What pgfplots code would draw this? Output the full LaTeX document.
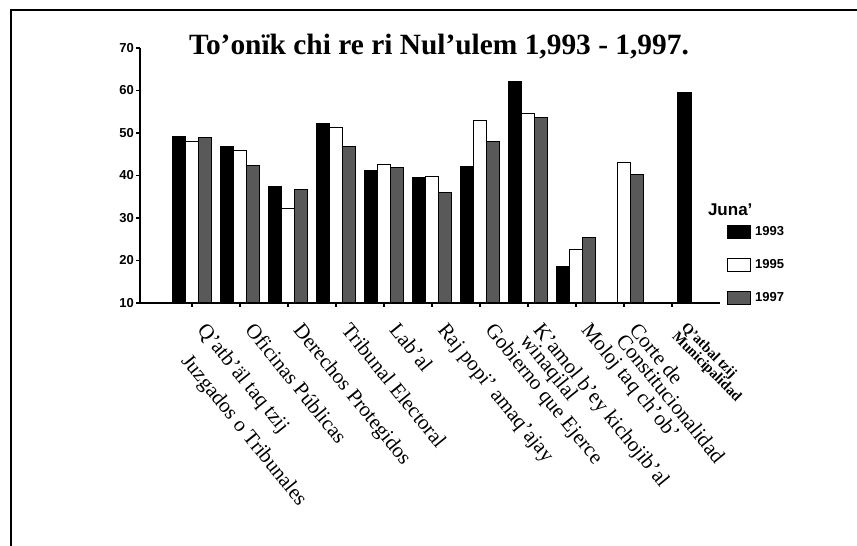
\documentclass[border=0pt]{standalone}
\usepackage{fontspec}
\setmainfont{Liberation Serif}
\setsansfont{Liberation Sans}
\usepackage{pgfplots}
\pgfplotsset{compat=1.18}
\pgfplotstableread{
x y93 y95 y97
0 49.1 47.9 48.9
1 46.9 45.9 42.3
2 37.3 32.3 36.8
3 52.3 51.3 46.8
4 41.2 42.5 42.0
5 39.5 39.8 36.0
6 42.2 52.9 48.0
7 62.2 54.6 53.6
8 18.6 22.7 25.3
}\datatable
\begin{document}
\begin{tikzpicture}[x=1pt,y=1pt]
\useasboundingbox (0,0) rectangle (857,546);
\fill[white] (0,0) rectangle (857,546);
\draw[line width=2pt] (10,536) -- (857,536);
\draw[line width=1.5pt] (11,537) -- (11,0);
\node[anchor=base, font=\bfseries\fontsize{29.4}{32}\selectfont] at (439,491) {To’onïk chi re ri Nul’ulem 1,993 - 1,997.};
\begin{axis}[
  at={(140pt,243pt)}, anchor=south west,
  scale only axis, width=580pt, height=255pt,
  xmin=-1.083, xmax=11, ymin=10, ymax=70,
  enlarge x limits=false, enlarge y limits=false,
  ybar=0pt, bar width=12.7pt,
  axis x line*=bottom, axis y line*=left,
  x axis line style={-, line width=1.8pt},
  y axis line style={-, line width=1.4pt},
  ytick={10,20,...,70},
  xtick={0,...,9},
  xticklabels={{Q’atb’äl taq tzij\\[7pt]\hspace*{14pt}Juzgados o Tribunales},{Oficinas Públicas},{Derechos Protegidos},{Tribunal Electoral},{Lab’al},{Raj popi’ amaq’ajay},{Gobierno que Ejerce},{K’amol b’ey kichojib’al\\[-8pt]winaqilal},{Moloj taq ch’ob’},{Corte de\\[-8pt]Constitucionalidad}},
  extra x ticks={10},
  extra x tick labels={{Q’atbal tzij\\[-2pt]Municipalidad}},
  extra x tick style={xticklabel style={rotate=6, font=\bfseries\fontsize{14.5}{15}\selectfont}},
  tick align=outside, major tick length=4pt,
  tick style={line width=1.2pt, black},
  xticklabel style={xshift=16pt, yshift=-14pt, rotate=-51, anchor=north west, align=left, font=\fontsize{21}{25}\selectfont, inner sep=0pt},
  yticklabel style={font=\sffamily\bfseries\fontsize{13}{13}\selectfont, /pgf/number format/assume math mode=true, inner sep=2pt},
  legend style={at={(axis description cs:1.012,0.306)}, anchor=north west, draw=none, fill=none, inner sep=0pt, row sep=19pt,
    nodes={inner sep=0pt, font=\sffamily\bfseries\fontsize{13}{13}\selectfont},
    /tikz/every odd column/.append style={column sep=4pt}},
  legend cell align=left,
  mylegend/.style={legend image code/.code={\draw[##1, line width=1pt] (0pt,-6.5pt) rectangle (23pt,6.5pt);}},
  clip=false,
]
\addplot[fill=black, draw=black, line width=1pt, mylegend, bar shift=-12.7pt] table[x=x, y=y93] {\datatable};
\addlegendentry{1993}
\addplot[fill=white, draw=black, line width=1pt, mylegend, bar shift=0pt] table[x=x, y=y95] {\datatable};
\addlegendentry{1995}
\addplot[fill=black!65, draw=black, line width=1pt, mylegend, bar shift=12.7pt] table[x=x, y=y97] {\datatable};
\addlegendentry{1997}
\addplot[fill=white, draw=black, line width=1pt, forget plot, bar shift=0pt] coordinates {(9,43.0)};
\addplot[fill=black!65, draw=black, line width=1pt, forget plot, bar shift=12.7pt] coordinates {(9,40.3)};
\addplot[fill=black, draw=black, line width=1pt, forget plot, bar shift=12.5pt, bar width=14pt] coordinates {(10,59.5)};
\node[anchor=west, font=\sffamily\bfseries\fontsize{17}{17}\selectfont, inner sep=0pt] at (axis description cs:0.979,0.365) {Juna’};
\end{axis}
\end{tikzpicture}
\end{document}
